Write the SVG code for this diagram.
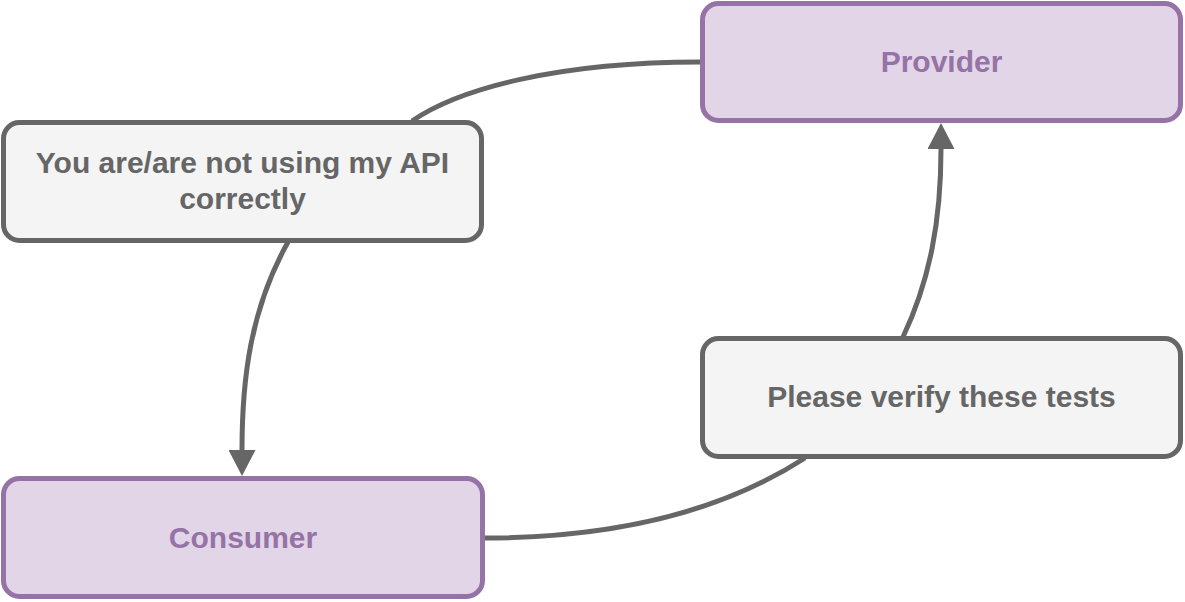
<svg xmlns="http://www.w3.org/2000/svg" width="1185" height="602" viewBox="0 0 1185 602">
<style>
.edge{fill:none;stroke:#666666;stroke-width:5}
.purple rect{fill:#e1d5e7;stroke:#9673a6;stroke-width:5}
.purple text{fill:#9673a6}
.gray rect{fill:#f4f4f4;stroke:#666666;stroke-width:5}
.gray text{fill:#666666}
text{font-family:"Liberation Sans",Arial,sans-serif;font-weight:bold;font-size:30px;text-anchor:middle}
</style>
<defs>
<marker id="arrow" viewBox="0 0 26 27" refX="0" refY="13.5" markerWidth="26" markerHeight="27" markerUnits="userSpaceOnUse" orient="auto">
<path d="M0,0 L26,13.5 L0,27 Z" fill="#666666"/>
</marker>
</defs>
<g id="connectors">
<path class="edge" d="M700,62 C560,62 460,88 412,121"/>
<path class="edge" d="M288,242 C250,310 242,380 242,450" marker-end="url(#arrow)"/>
<path class="edge" d="M484,538 C640,538 740,500 805,458"/>
<path class="edge" d="M903,337 C930,280 941,220 941,149" marker-end="url(#arrow)"/>
</g>
<g id="provider" class="purple">
<rect x="702.5" y="3.5" width="478" height="117" rx="16"/>
<text x="941.5" y="72">Provider</text>
</g>
<g id="label-correct" class="gray">
<rect x="3.5" y="122.5" width="478" height="118" rx="16"/>
<text x="242.5" y="173">You are/are not using my API</text>
<text x="242.5" y="209">correctly</text>
</g>
<g id="consumer" class="purple">
<rect x="3.5" y="478.5" width="479" height="118" rx="16"/>
<text x="243" y="548">Consumer</text>
</g>
<g id="label-verify" class="gray">
<rect x="702.5" y="338.5" width="478" height="118" rx="16"/>
<text x="941.5" y="407">Please verify these tests</text>
</g>
</svg>
